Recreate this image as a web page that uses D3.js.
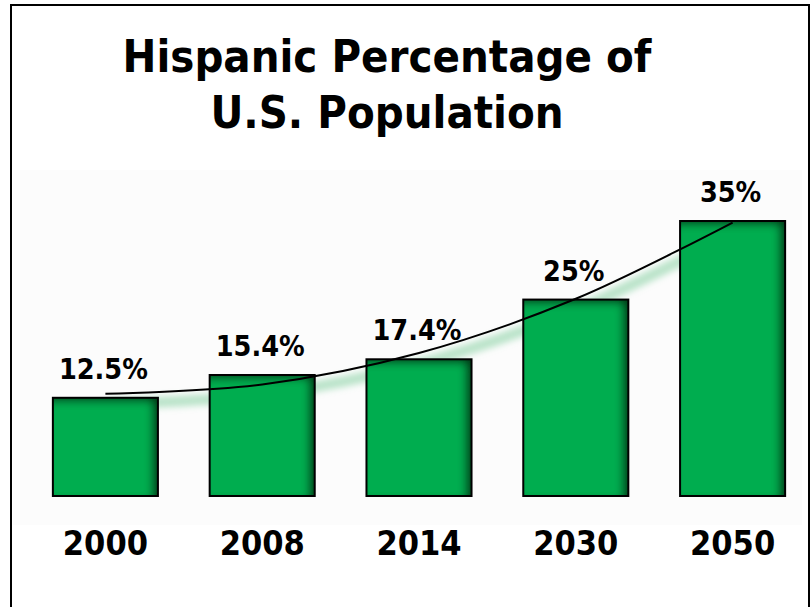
<!DOCTYPE html>
<html>
<head>
<meta charset="utf-8">
<script src="https://cdn.jsdelivr.net/npm/d3@7"></script>
<style>
  html, body { margin: 0; padding: 0; background: #fff; }
  svg { display: block; }
  text { font-family: "DejaVu Sans Condensed", "DejaVu Sans", sans-serif; font-weight: bold; fill: #000; }
</style>
</head>
<body>
<div id="chart"></div>
<script>
const years = ['2000', '2008', '2014', '2030', '2050'];
const shares = [12.5, 15.4, 17.4, 25, 35];
const labels = ['12.5%', '15.4%', '17.4%', '25%', '35%'];
// trend curve (quadratic-looking trendline)
const trend = [13.0, 14.2, 18.2, 25.1, 34.8];
const titleLines = ['Hispanic Percentage of', 'U.S. Population'];

const width = 812;
const height = 607;

const svg = d3.select('#chart')
  .append('svg')
    .attr('width', width)
    .attr('height', height);

const defs = svg.append('defs');

// inner shadow on the top and right edges of each bar
const inner = defs.append('filter').attr('id', 'innerShadow')
  .attr('x', '-20%').attr('y', '-20%').attr('width', '140%').attr('height', '140%');
inner.append('feComponentTransfer').attr('in', 'SourceAlpha').attr('result', 'inv')
  .append('feFuncA').attr('type', 'table').attr('tableValues', '1 0');
inner.append('feOffset').attr('in', 'inv').attr('dx', -6).attr('dy', 4).attr('result', 'off');
inner.append('feGaussianBlur').attr('in', 'off').attr('stdDeviation', 4).attr('result', 'blur');
inner.append('feComposite').attr('in', 'blur').attr('in2', 'SourceAlpha').attr('operator', 'in').attr('result', 'shadow');
inner.append('feComponentTransfer').attr('in', 'shadow').attr('result', 'shadowDark')
  .append('feFuncA').attr('type', 'linear').attr('slope', 0.9);
const merge = inner.append('feMerge');
merge.append('feMergeNode').attr('in', 'SourceGraphic');
merge.append('feMergeNode').attr('in', 'shadowDark');

const glow = defs.append('filter').attr('id', 'glow')
  .attr('x', '-10%').attr('y', '-30%').attr('width', '120%').attr('height', '160%');
glow.append('feGaussianBlur').attr('stdDeviation', 3);

// frame and faint plot background
svg.append('rect')
  .attr('x', 13).attr('y', 170).attr('width', 789).attr('height', 355)
  .attr('fill', '#fcfcfc');
svg.append('rect')
  .attr('x', 11).attr('y', 5).attr('width', 798).attr('height', 640)
  .attr('fill', 'none').attr('stroke', '#000').attr('stroke-width', 2);

// title
svg.append('text')
  .attr('x', 387)
  .attr('y', 72)
  .attr('text-anchor', 'middle')
  .style('font-size', '45px')
  .selectAll('tspan')
  .data(titleLines)
  .enter()
  .append('tspan')
    .attr('x', 387)
    .attr('dy', (d, i) => i === 0 ? 0 : 56)
    .text(d => d);

const x = d3.scaleBand()
  .domain(years)
  .range([27, 811])
  .paddingInner(0.33)
  .paddingOuter(0.165);

const y = d3.scaleLinear()
  .domain([0, 35])
  .range([496, 221]);

const cx = (d) => x(d) + x.bandwidth() / 2;

// soft green shadow under the trend line
const trendLine = d3.line()
  .x((d, i) => cx(years[i]))
  .y(d => y(d))
  .curve(d3.curveCatmullRom);

svg.append('path')
  .datum(trend)
  .attr('d', trendLine)
  .attr('transform', 'translate(3,10)')
  .attr('fill', 'none')
  .attr('stroke', '#8fd3a8')
  .attr('stroke-opacity', 0.6)
  .attr('stroke-width', 11)
  .attr('filter', 'url(#glow)');

const bars = svg.append('g');

bars.selectAll('.bar')
  .data(shares)
  .enter()
  .append('rect')
    .attr('class', 'bar')
    .attr('x', (d, i) => x(years[i]))
    .attr('y', d => y(d))
    .attr('width', x.bandwidth())
    .attr('height', d => y(0) - y(d))
    .attr('fill', '#00ad50')
    .attr('filter', 'url(#innerShadow)');

bars.selectAll('.outline')
  .data(shares)
  .enter()
  .append('rect')
    .attr('class', 'outline')
    .attr('x', (d, i) => x(years[i]))
    .attr('y', d => y(d))
    .attr('width', x.bandwidth())
    .attr('height', d => y(0) - y(d))
    .attr('fill', 'none')
    .attr('stroke', '#000')
    .attr('stroke-width', 2);

// trend line
svg.append('path')
  .datum(trend)
  .attr('d', trendLine)
  .attr('fill', 'none')
  .attr('stroke', '#000')
  .attr('stroke-width', 2);

// value labels
svg.selectAll('.value')
  .data(shares)
  .enter()
  .append('text')
    .attr('class', 'value')
    .attr('x', (d, i) => cx(years[i]) - 2)
    .attr('y', d => y(d) - 19)
    .attr('text-anchor', 'middle')
    .style('font-size', '28.5px')
    .text((d, i) => labels[i]);

// category axis
svg.append('g')
  .attr('transform', `translate(0,${y(0)})`)
  .call(d3.axisBottom(x).tickSize(0).tickPadding(35))
  .call(g => g.select('.domain').remove())
  .selectAll('text')
    .attr('font-family', null)
    .attr('font-size', null)
    .style('font-size', '34px')
    .attr('dy', '0.71em');
</script>
</body>
</html>
